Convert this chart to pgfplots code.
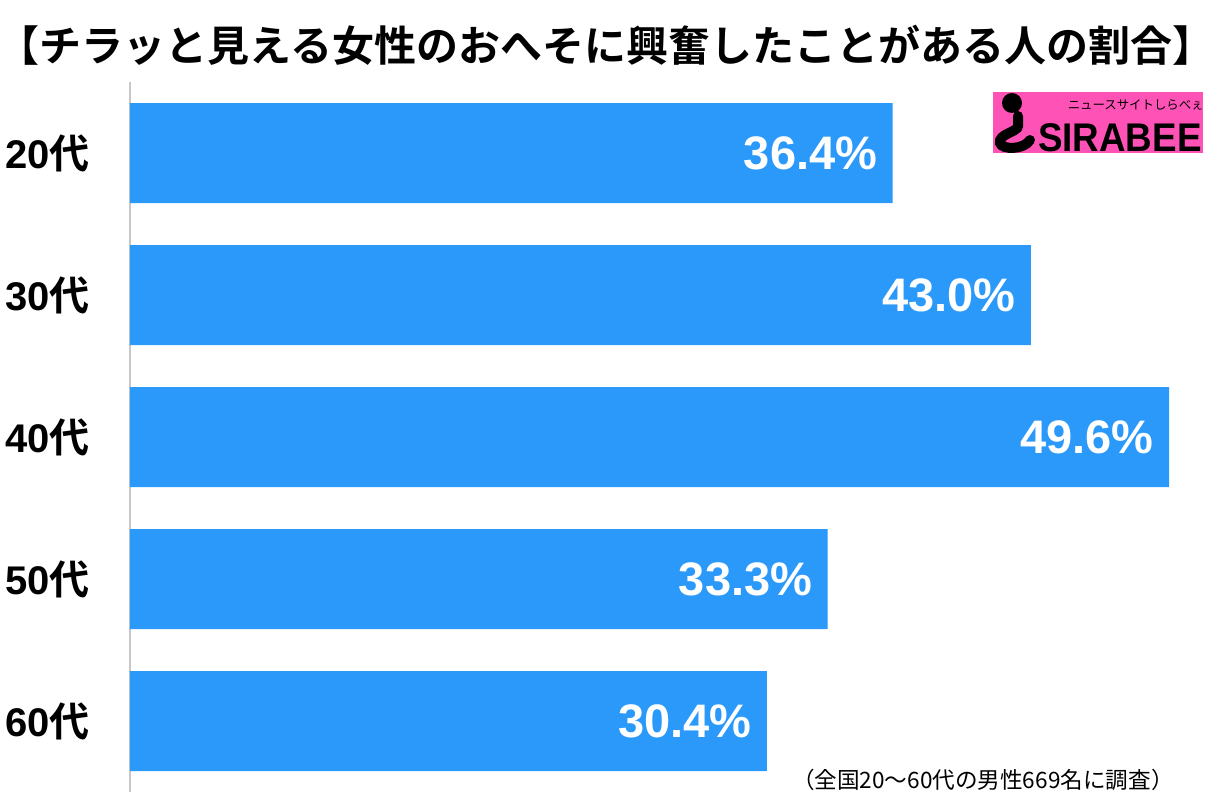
\documentclass[border=0pt]{standalone}
\usepackage{fontspec}
\usepackage{pgfplots}
\pgfplotsset{compat=1.18}
\setmainfont{Liberation Sans}
\newfontfamily\jp{Noto Sans CJK JP}[BoldFont={* Bold}]

\definecolor{barblue}{RGB}{42,153,250}
\definecolor{logopink}{RGB}{255,82,182}

\begin{document}
\begin{tikzpicture}
\useasboundingbox (0,0) rectangle (606pt,-404pt);

% title
\node[font=\jp\bfseries\fontsize{21pt}{24pt}\selectfont] at (303pt,-22.5pt)
  {【チラッと見える女性のおへそに興奮したことがある人の割合】};

\begin{axis}[
    at={(65pt,-396pt)}, anchor=south west,
    scale only axis, width=541pt, height=355pt,
    xmin=0, xmax=51.65, ymin=-0.5, ymax=4.5,
    y dir=reverse,
    xbar, bar width=50pt,
    axis x line=none, axis y line=left,
    y axis line style={-, draw=black!22, line width=1pt},
    ytick={0,1,2,3,4},
    yticklabels={20{\jp\bfseries 代},30{\jp\bfseries 代},40{\jp\bfseries 代},50{\jp\bfseries 代},60{\jp\bfseries 代}},
    major tick length=0pt,
    yticklabel style={anchor=east, inner sep=0pt, xshift=-20pt,
      font=\bfseries\fontsize{20pt}{22pt}\selectfont},
    nodes near coords={\pgfmathprintnumber[fixed,fixed zerofill,precision=1,assume math mode=true]{\pgfplotspointmeta}\%},
    nodes near coords style={anchor=east, inner sep=0pt, xshift=-7.5pt, text=white,
      font=\bfseries\fontsize{23.5pt}{25pt}\selectfont},
    point meta=x,
]
\addplot[fill=barblue, draw=none] coordinates {(36.4,0) (43.0,1) (49.6,2) (33.3,3) (30.4,4)};
\end{axis}

% logo
\fill[logopink] (496.5pt,-46pt) rectangle (601.5pt,-76.5pt);
\fill[black] (506pt,-51.5pt) circle (5pt);
\draw[black, line width=5pt, line cap=round]
  (509pt,-58pt) -- (509pt,-63pt) .. controls (509pt,-66pt) and (499pt,-67pt) .. (500pt,-71.5pt)
  .. controls (501pt,-75pt) and (512pt,-75pt) .. (515pt,-70pt);
\node[anchor=south east, inner sep=0pt, font=\bfseries\fontsize{20pt}{20pt}\selectfont, xscale=0.92] at (601pt,-76pt) {SIRABEE};
\node[anchor=south east, inner sep=0pt, font=\jp\fontsize{6.2pt}{7pt}\selectfont] at (602pt,-55.5pt) {ニュースサイトしらべぇ};

% footnote
\node[anchor=east, inner sep=0pt, font=\jp\fontsize{11.3pt}{12pt}\selectfont] at (587pt,-390pt)
  {（全国20～60代の男性669名に調査）};
\end{tikzpicture}
\end{document}
